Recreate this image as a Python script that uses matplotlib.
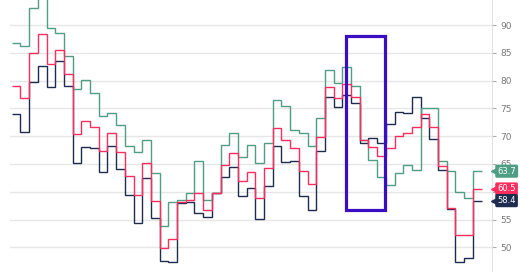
import matplotlib
matplotlib.use('Agg')
import matplotlib.pyplot as plt
import numpy as np

# Step series, one value per period.
green = [86.7, 86.3, 93.0, 96.0, 89.4, 88.6, 84.5, 78.4, 80.1, 77.7, 73.6, 74.2, 72.0, 68.2,
         67.2, 69.4, 63.3, 53.8, 58.2, 58.5, 59.7, 65.6, 58.6, 59.8, 68.4, 70.6, 66.3, 68.4,
         65.1, 68.8, 76.5, 75.4, 71.1, 70.6, 68.3, 73.3, 81.9, 79.5, 82.5, 79.0, 69.3, 65.8,
         62.7, 61.3, 63.3, 64.9, 63.9, 75.0, 75.0, 65.6, 63.8, 59.9, 58.9, 63.7]
red = [79.0, 76.8, 84.9, 88.3, 82.9, 85.5, 81.2, 70.3, 72.8, 71.7, 67.3, 70.5, 67.2, 62.8,
       59.4, 65.2, 58.3, 49.9, 51.5, 58.1, 58.6, 59.8, 56.7, 59.8, 64.9, 66.9, 61.9, 63.6,
       58.9, 64.2, 71.5, 69.4, 67.8, 63.8, 61.4, 69.8, 78.9, 76.8, 79.3, 77.1, 69.4, 68.1,
       66.4, 67.8, 70.0, 70.5, 71.7, 73.9, 71.7, 64.7, 57.0, 52.2, 52.2, 60.5]
navy = [74.0, 70.7, 79.7, 82.7, 78.8, 83.5, 79.0, 65.1, 68.1, 67.9, 63.5, 68.3, 64.1, 59.5,
        54.3, 62.5, 55.2, 47.6, 47.3, 58.0, 58.1, 56.2, 55.5, 59.7, 62.6, 64.5, 59.2, 60.6,
        55.1, 61.0, 68.3, 65.4, 65.6, 59.3, 56.7, 67.4, 77.1, 75.2, 77.4, 75.9, 68.8, 69.6,
        68.8, 72.1, 74.4, 74.1, 77.0, 73.3, 69.5, 64.0, 56.9, 47.4, 48.0, 58.4]

yticks = [50, 55, 60, 65, 70, 75, 80, 85, 90]

# highlighted window (periods / price range)
hl_x = (38.4, 42.85)
hl_y = (56.8, 88.0)

c_green = '#4f9e83'
c_red = '#ff2d5e'
c_navy = '#1d2b4e'

edges = np.arange(len(green) + 1)

fig = plt.figure(figsize=(5.2, 2.72), dpi=100)
ax = fig.add_axes([10 / 520, 0, 482 / 520, 1])

ax.stairs(green, edges, baseline=None, color=c_green, lw=1.0, zorder=3)
ax.stairs(red, edges, baseline=None, color=c_red, lw=1.0, zorder=4)
ax.stairs(navy, edges, baseline=None, color=c_navy, lw=1.0, zorder=2)

ax.add_patch(plt.Rectangle((hl_x[0], hl_y[0]), hl_x[1] - hl_x[0], hl_y[1] - hl_y[0],
                           fill=False, ec='#3a0fc4', lw=2.3, zorder=5))

ax.set_xlim(-0.2, 55.2)
ax.set_ylim(45.56, 94.5)
ax.set_xticks([])
ax.set_yticks(yticks)
ax.yaxis.tick_right()
ax.tick_params(axis='y', colors='#aaaaaa', labelcolor='#777777', labelsize=6.5,
               length=3, width=0.8, pad=3)
ax.grid(axis='y', color='#e6e6e6', lw=1)
for s in ['top', 'left', 'bottom']:
    ax.spines[s].set_visible(False)
ax.spines['right'].set_color('#e0e0e0')
ax.set_facecolor('none')

# last value labels on the right axis
for vals, col in [(green, c_green), (red, c_red), (navy, c_navy)]:
    v = vals[-1]
    ax.plot([1.004], [v], marker='<', ms=4, color=col, transform=ax.get_yaxis_transform(),
            clip_on=False, zorder=6)
    ax.text(1.011, v, f'{v:.1f}', transform=ax.get_yaxis_transform(), color='white',
            fontsize=6, va='center', ha='left', zorder=7, clip_on=False,
            bbox=dict(boxstyle='round,pad=0.25,rounding_size=0.2', fc=col, ec='none'))

plt.savefig('out.png', dpi=100)
